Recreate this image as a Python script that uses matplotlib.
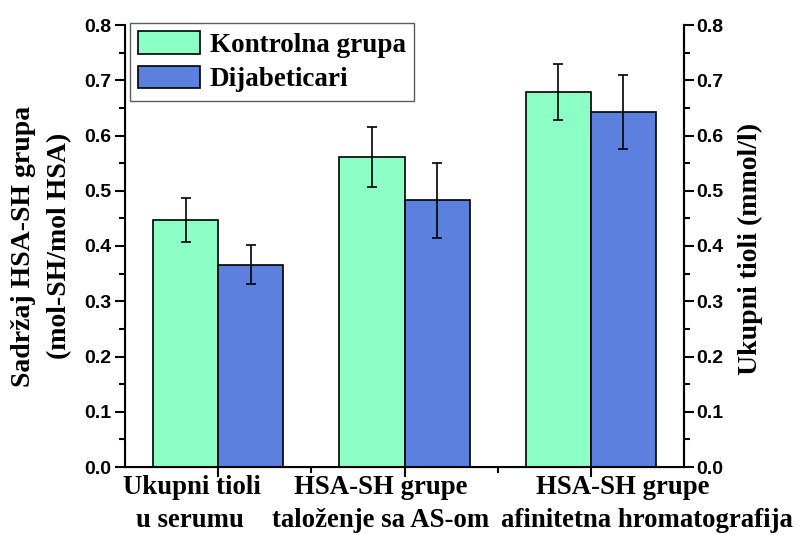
import matplotlib
matplotlib.use("Agg")
import matplotlib.pyplot as plt
import numpy as np
from matplotlib.ticker import MultipleLocator
import matplotlib.transforms as mtransforms

# ---- data ----
cat_line1 = ["Ukupni tioli", "HSA-SH grupe", "HSA-SH grupe"]
cat_line2 = ["u serumu", "taloženje sa AS-om", "afinitetna hromatografija"]
series_names = ["Kontrolna grupa", "Dijabeticari"]
kontrolna = [0.447, 0.561, 0.679]
kontrolna_err = [0.039, 0.054, 0.051]
dijabeticari = [0.366, 0.483, 0.643]
dijabeticari_err = [0.035, 0.068, 0.067]
y_ticks = [0.0, 0.1, 0.2, 0.3, 0.4, 0.5, 0.6, 0.7, 0.8]

# label horizontal offsets (data units) relative to group centre
line1_off = [-0.14, -0.13, 0.17]
line2_off = [-0.15, -0.13, 0.30]

green = "#8CFFC6"
blue = "#5B80DE"

serif = "Liberation Serif"
sans = "Liberation Sans"
TXT = 20
CAT = 19.3
TICK = 14

fig = plt.figure(figsize=(8.01, 5.35), dpi=100)
ax = fig.add_axes([125/801, 1-467/535, (684-125)/801, (467-25)/535])

x = np.arange(1, len(kontrolna) + 1)
w = 0.35
ax.bar(x - w/2, kontrolna, w, color=green, edgecolor="black", linewidth=1.2,
       label=series_names[0], zorder=2)
ax.bar(x + w/2, dijabeticari, w, color=blue, edgecolor="black", linewidth=1.2,
       label=series_names[1], zorder=2)
ax.errorbar(x - w/2, kontrolna, yerr=kontrolna_err, fmt="none", ecolor="black",
            elinewidth=1.2, capsize=3.6, capthick=1.2, zorder=3)
ax.errorbar(x + w/2, dijabeticari, yerr=dijabeticari_err, fmt="none", ecolor="black",
            elinewidth=1.2, capsize=3.6, capthick=1.2, zorder=3)

ax.set_xlim(0.5, 3.5)
ax.set_ylim(0, 0.8)
ax.set_yticks(y_ticks)
ax.yaxis.set_minor_locator(MultipleLocator(0.05))
ax.set_yticklabels([f"{v:.1f}" for v in y_ticks], fontfamily=sans, fontweight="bold", fontsize=TICK)
ax.set_xticks(x)
ax.set_xticks(x[:-1] + 0.5, minor=True)
ax.set_xticklabels([""] * len(x))

for s in ["left", "right", "bottom"]:
    ax.spines[s].set_linewidth(1.5)
ax.spines["top"].set_visible(False)

ax.tick_params(axis="y", which="major", direction="out", length=7, width=1.5, pad=3)
ax.tick_params(axis="y", which="minor", direction="out", length=4, width=1.5)
ax.tick_params(axis="x", which="major", direction="out", length=7, width=1.5)
ax.tick_params(axis="x", which="minor", direction="out", length=4, width=1.5)

ax2 = ax.twinx()
ax2.set_ylim(0, 0.8)
ax2.set_yticks(y_ticks)
ax2.yaxis.set_minor_locator(MultipleLocator(0.05))
ax2.set_yticklabels([f"{v:.1f}" for v in y_ticks], fontfamily=sans, fontweight="bold", fontsize=TICK)
ax2.spines["top"].set_visible(False)
ax2.spines["right"].set_linewidth(1.5)
ax2.tick_params(axis="y", which="major", direction="out", length=7, width=1.5, pad=2)
ax2.tick_params(axis="y", which="minor", direction="out", length=4, width=1.5)

# axis labels
fig.text(24/801, 1-246/535, "Sadržaj HSA-SH grupa", rotation=90, ha="center", va="center",
         fontfamily=serif, fontweight="bold", fontsize=TXT)
fig.text(60/801, 1-246/535, "(mol-SH/mol HSA)", rotation=90, ha="center", va="center",
         fontfamily=serif, fontweight="bold", fontsize=TXT)
fig.text(750/801, 1-249/535, "Ukupni tioli (mmol/l)", rotation=90, ha="center", va="center",
         fontfamily=serif, fontweight="bold", fontsize=TXT)

# category labels
trans = mtransforms.blended_transform_factory(ax.transData, fig.transFigure)
for i in range(len(x)):
    ax.text(x[i] + line1_off[i], 1-494/535, cat_line1[i], transform=trans, ha="center",
            va="baseline", fontfamily=serif, fontweight="bold", fontsize=CAT, clip_on=False)
    ax.text(x[i] + line2_off[i], 1-527/535, cat_line2[i], transform=trans, ha="center",
            va="baseline", fontfamily=serif, fontweight="bold", fontsize=CAT, clip_on=False)

leg = ax.legend(loc="upper left", bbox_to_anchor=(130/801, 1-23/535),
                bbox_transform=fig.transFigure, prop={"family": serif, "weight": "bold", "size": 19.5},
                frameon=True, fancybox=False, shadow=False, borderaxespad=0,
                handlelength=2.3, handleheight=0.9, handletextpad=0.35, labelspacing=0.3,
                borderpad=0.3)
leg.get_frame().set_edgecolor("#333333")
leg.get_frame().set_linewidth(1.0)
leg.set_zorder(5)

fig.savefig("out.png", dpi=100)
